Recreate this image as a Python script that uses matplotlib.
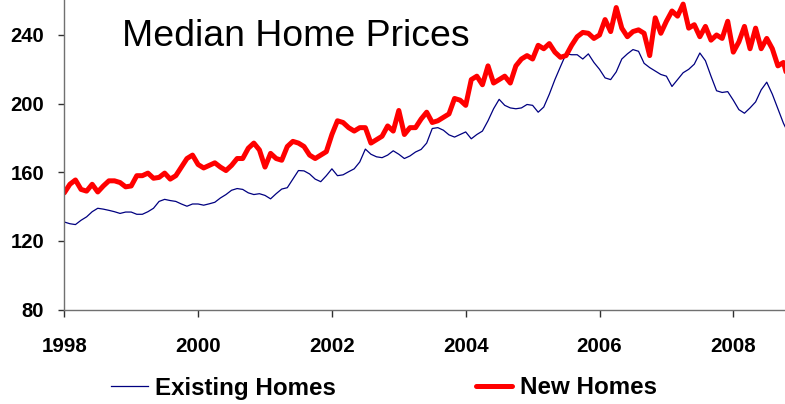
import numpy as np
import matplotlib
matplotlib.use("Agg")
import matplotlib.pyplot as plt

plt.rcParams['font.family'] = ['Liberation Sans', 'DejaVu Sans']

start_year = 1998
title = "Median Home Prices"
series_names = ["Existing Homes", "New Homes"]

existing = [131, 130, 129.5, 132, 134, 137, 139, 138.5, 137.8, 137, 136, 136.8,
            136.8, 135.5, 135.5, 137, 139, 143, 144.2, 143.5, 143, 141.5, 140.2, 141.5,
            141.5, 140.8, 141.6, 142.5, 145, 147, 149.5, 150.5, 150, 148, 147, 147.5,
            146.5, 144.5, 147.5, 150.2, 151, 156, 161, 160.8, 159, 156, 154.5, 158,
            162, 158, 158.5, 160.3, 162, 166, 173.5, 170.5, 169, 168.5, 170, 172.5,
            170.5, 168, 169.5, 171.8, 173.3, 177, 185.5, 186, 184.5, 181.8, 180.5, 182,
            183.5, 179.5, 182, 184, 190, 197, 202.5, 199, 197.5, 197, 197.5, 199.5,
            199, 195, 198, 205.5, 214, 221.6, 229, 228.5, 228.5, 226, 229, 224,
            220, 215, 214, 218.5, 226, 229, 231.5, 230.5, 223.5, 221, 219, 217,
            216, 210, 214, 218, 220, 223, 229.5, 225, 216, 207.5, 206.5, 207,
            202, 196.5, 194.4, 197.5, 201, 208, 212.5, 205.5, 197, 188.5, 182]

new = [148, 153, 155.5, 150, 149, 153, 148.5, 152, 155, 155, 154, 151.5,
       152, 158, 158, 159.5, 156.5, 157, 159.5, 156, 158, 163, 168, 170,
       164.5, 162.5, 164, 165.5, 163, 161, 164, 168, 168, 174, 177, 173,
       163, 171, 168, 167, 175, 178, 177, 175, 170, 168, 170, 172,
       182, 190, 189, 186, 184, 186, 186, 177, 179, 181, 187, 184,
       196, 182, 186, 186, 191, 195, 189, 190, 192, 194, 203, 202,
       199, 214, 216, 211, 222, 212, 214, 216, 212, 222, 226, 228,
       226, 234, 232, 235, 230, 227, 228, 234, 239, 241.5, 241, 238,
       240, 249, 242, 256, 244, 239, 242, 243, 241, 228, 250, 241,
       248, 254, 251, 258, 244, 246, 239, 245, 237, 240, 238, 248,
       230, 236, 245, 232, 244, 232, 238, 232, 222, 224, 212]

x_ticks = [1998, 2000, 2002, 2004, 2006, 2008]
y_ticks = [80, 120, 160, 200, 240]

x = start_year + np.arange(len(new)) / 12.0

W, H = 785, 404
fig = plt.figure(figsize=(W / 100, H / 100), dpi=100)
ax = fig.add_axes([64.3 / W, (H - 309.5) / H, (W - 64.3) / W, 309.5 / H])

l1, = ax.plot(x, existing, color='#000080', lw=0.9, label=series_names[0])
l2, = ax.plot(x, new, color='#ff0000', lw=3.6, label=series_names[1],
              solid_joinstyle='round', solid_capstyle='round')

ax.set_xlim(1998, 1998 + (W - 64.3) / 66.9)
ax.set_ylim(80, 240 + 35 * 160 / 274.5)

ax.set_xticks(x_ticks)
ax.set_xticklabels([str(t) for t in x_ticks])
ax.set_yticks(y_ticks)
ax.set_yticklabels([str(t) for t in y_ticks])

for s in ['top', 'right']:
    ax.spines[s].set_visible(False)
for s in ['left', 'bottom']:
    ax.spines[s].set_color('#707070')
    ax.spines[s].set_linewidth(1.0)

ax.tick_params(axis='x', direction='out', length=5, width=1, color='#303030',
               pad=15, labelsize=14.8)
ax.tick_params(axis='y', direction='out', length=4.5, width=1, color='#303030',
               pad=10, labelsize=14.6)
for lab in ax.get_xticklabels() + ax.get_yticklabels():
    lab.set_fontweight('bold')

fig.text(121.7 / W, 1 - 45.7 / H, title, fontsize=26.9, ha='left', va='baseline')

fig.legend(handles=[l1, l2], loc='center', bbox_to_anchor=(384 / W, 1 - 388 / H),
           ncol=2, frameon=False, prop={'size': 17.4, 'weight': 'bold'},
           handlelength=1.5, handletextpad=0.3, columnspacing=5.8)

fig.savefig('out.png', dpi=100)
